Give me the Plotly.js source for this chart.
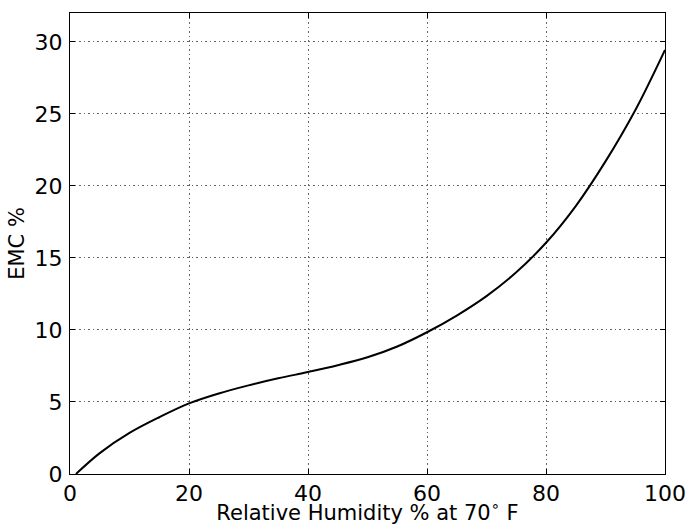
<!DOCTYPE html>
<html>
<head>
<meta charset="utf-8">
<script src="https://cdn.plot.ly/plotly-3.0.1.min.js"></script>
<style>html,body{margin:0;padding:0;background:#fff;}#chart{width:691px;height:525px;}</style>
</head>
<body>
<div id="chart"></div>
<script>
const relHumidity = [1, 5, 10, 15, 20, 25, 30, 35, 40, 45, 50, 55, 60, 65, 70, 75, 80, 85, 90, 95, 100];
const emc = [0, 1.45, 2.85, 3.94, 4.9, 5.59, 6.15, 6.64, 7.08, 7.55, 8.1, 8.85, 9.84, 11.0, 12.35, 14.0, 16.05, 18.6, 21.7, 25.25, 29.44];
const xTicks = [0, 20, 40, 60, 80, 100];
const yTicks = [0, 5, 10, 15, 20, 25, 30];

const tickFont = {family: 'DejaVu Sans, sans-serif', size: 22, color: '#000'};
const titleFont = {family: 'DejaVu Sans, sans-serif', size: 21, color: '#000'};
const axisCommon = {
  showline: true, mirror: 'ticks', linecolor: '#000', linewidth: 1,
  ticks: 'inside', ticklen: 5, tickcolor: '#000', tickwidth: 1,
  showgrid: true, gridcolor: '#666', griddash: '1.5px,3px', gridwidth: 1,
  zeroline: false, tickfont: tickFont
};

Plotly.newPlot('chart', [{
  x: relHumidity, y: emc, type: 'scatter', mode: 'lines',
  line: {color: '#000', width: 2, shape: 'spline', smoothing: 1},
  showlegend: false, hoverinfo: 'x+y'
}], {
  width: 691, height: 525,
  margin: {l: 70, r: 26, t: 13, b: 51},
  paper_bgcolor: '#fff', plot_bgcolor: '#fff',
  font: tickFont,
  xaxis: Object.assign({}, axisCommon, {
    range: [0, 100], tickvals: xTicks, ticktext: xTicks.map(String),
    ticklabelstandoff: 0,
    title: {text: 'Relative Humidity % at 70<sup>∘</sup> F', font: titleFont, standoff: 3}
  }),
  yaxis: Object.assign({}, axisCommon, {
    range: [0, 32], tickvals: yTicks, ticktext: yTicks.map(String),
    ticklabelstandoff: 2,
    title: {text: 'EMC %', font: titleFont, standoff: 4}
  })
}, {displayModeBar: false, staticPlot: true});
</script>
</body>
</html>
